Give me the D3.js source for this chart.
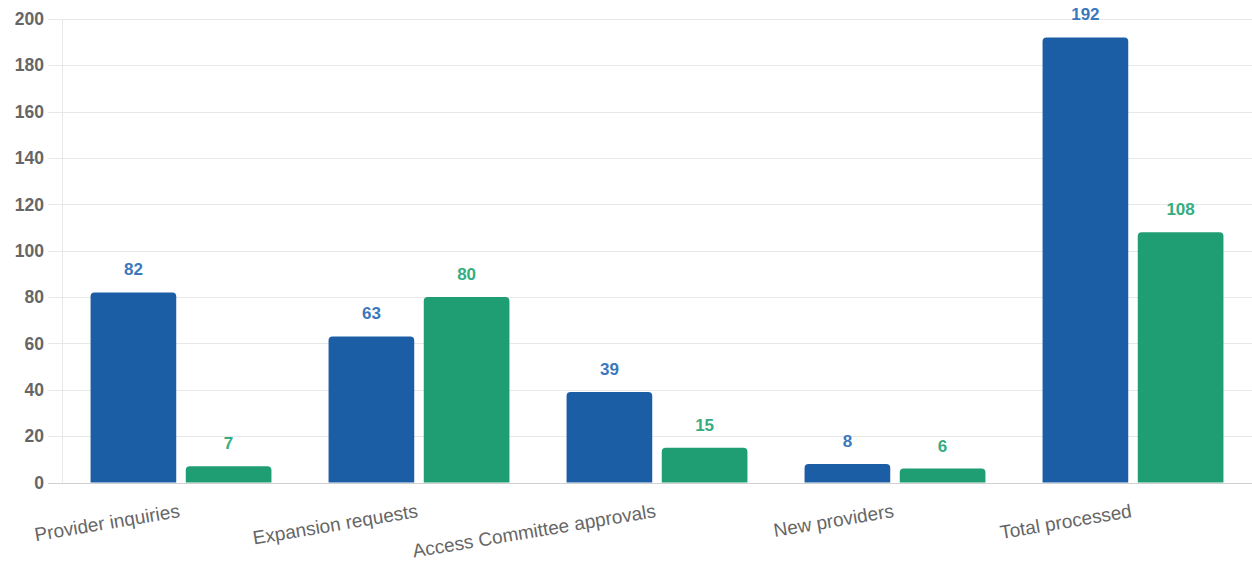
<!DOCTYPE html>
<html>
<head>
<meta charset="utf-8">
<script src="https://cdn.jsdelivr.net/npm/d3@7"></script>
<style>
  html, body { margin: 0; padding: 0; background: #fff; }
  svg { display: block; font-family: "Liberation Sans", Arial, Helvetica, sans-serif; }
</style>
</head>
<body>
<svg id="chart" width="1252" height="561"></svg>
<script>
const categories = ["Provider inquiries", "Expansion requests", "Access Committee approvals", "New providers", "Total processed"];
const seriesNames = ["Series A", "Series B"];
const seriesA = [82, 63, 39, 8, 192];
const seriesB = [7, 80, 15, 6, 108];
const yTicks = [0, 20, 40, 60, 80, 100, 120, 140, 160, 180, 200];
const colors = ["#1b5ea6", "#1f9e73"];
const labelColors = ["#3b78bd", "#35ad7f"];

const svg = d3.select("#chart");
const W = 1252, H = 561;
const m = { left: 62, right: 0, top: 19, bottom: 78 };

const x0 = d3.scaleBand().domain(categories).range([m.left, W - m.right]).paddingInner(0).paddingOuter(0);
const groupW = x0.bandwidth() * 0.8;
const x1 = d3.scaleBand().domain([0, 1]).range([0, groupW]);
const barW = x1.bandwidth() * 0.9;
const y = d3.scaleLinear().domain([0, 200]).range([482.5, 19]);

// grid
const grid = svg.append("g");
grid.selectAll("line.h").data(yTicks).join("line")
  .attr("x1", 48).attr("x2", W)
  .attr("y1", d => Math.round(y(d)) + 0.5).attr("y2", d => Math.round(y(d)) + 0.5)
  .attr("stroke", d => d === 0 ? "#d0d0d0" : "#e8e8e8").attr("stroke-width", 1);
grid.append("line")
  .attr("x1", m.left + 0.5).attr("x2", m.left + 0.5)
  .attr("y1", y(200)).attr("y2", y(0))
  .attr("stroke", "#e8e8e8");

// y tick labels
svg.append("g").selectAll("text").data(yTicks).join("text")
  .attr("x", 44).attr("y", d => y(d))
  .attr("dy", "0.35em")
  .attr("text-anchor", "end")
  .attr("fill", "#666")
  .attr("font-size", 17.5)
  .attr("font-weight", "bold")
  .text(d => d);

// bars
const data = categories.map((c, i) => ({ c, vals: [seriesA[i], seriesB[i]] }));
function topRounded(x, yTop, w, h, r) {
  r = Math.min(r, h, w / 2);
  return `M${x},${yTop + h}V${yTop + r}Q${x},${yTop} ${x + r},${yTop}H${x + w - r}Q${x + w},${yTop} ${x + w},${yTop + r}V${yTop + h}Z`;
}
const groups = svg.append("g").selectAll("g").data(data).join("g")
  .attr("transform", d => `translate(${x0(d.c) + (x0.bandwidth() - groupW) / 2},0)`);
groups.selectAll("path").data(d => d.vals.map((v, k) => ({ v, k }))).join("path")
  .attr("d", d => {
    const bx = x1(d.k) + (x1.bandwidth() - barW) / 2;
    return topRounded(bx, y(d.v), barW, y(0) - y(d.v), 4);
  })
  .attr("fill", d => colors[d.k]);
groups.selectAll("text").data(d => d.vals.map((v, k) => ({ v, k }))).join("text")
  .attr("x", d => x1(d.k) + x1.bandwidth() / 2)
  .attr("y", d => y(d.v) - 23)
  .attr("dy", "0.35em")
  .attr("text-anchor", "middle")
  .attr("fill", d => labelColors[d.k])
  .attr("font-size", 17)
  .attr("font-weight", "bold")
  .text(d => d.v);

// x labels
svg.append("g").selectAll("text").data(categories).join("text")
  .attr("transform", d => `translate(${x0(d) + x0.bandwidth() / 2 - 3},${502}) rotate(-9.5)`)
  .attr("text-anchor", "end")
  .attr("dy", "0.8em")
  .attr("fill", "#666")
  .attr("font-size", 19)
  .text(d => d);
</script>
</body>
</html>
